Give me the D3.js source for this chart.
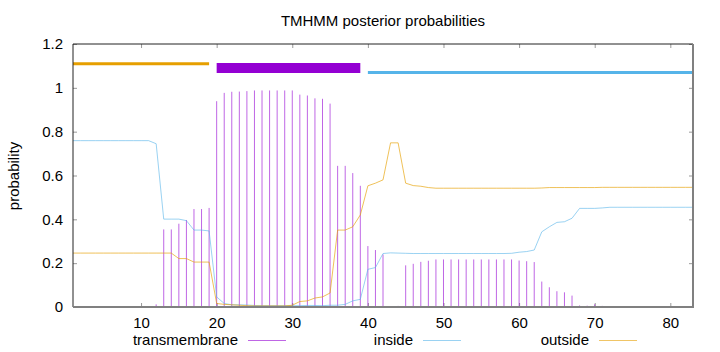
<html>
  <head>
    <script src="https://cdn.jsdelivr.net/npm/d3@7"></script>
    <style>
      body { margin: 0; background: #fff; }
      text { font-family: "Liberation Sans", Arial, sans-serif; fill: #000; }
    </style>
  </head>
  <body>
    <div id="chart"></div>
    <script>
      // residue positions 1..83
      let positions = d3.range(1, 84);

      // transmembrane posterior (impulses)
      let transmembrane = [
        0, 0, 0, 0, 0, 0, 0, 0, 0, 0, 0,
        0.012, 0.354, 0.354, 0.38, 0.397, 0.447, 0.447, 0.452,
        0.939, 0.977, 0.982, 0.983, 0.985, 0.988, 0.988, 0.988, 0.988, 0.988, 0.988,
        0.969, 0.965, 0.952, 0.95, 0.928, 0.644, 0.644, 0.611, 0.553,
        0.278, 0.26, 0.24, 0.003, 0.005, 0.19, 0.197, 0.206, 0.211,
        0.217, 0.217, 0.217, 0.217, 0.217, 0.217, 0.217, 0.217, 0.217, 0.217, 0.217,
        0.212, 0.209, 0.205, 0.116, 0.09, 0.072, 0.067, 0.052,
        0.007, 0.006, 0.012, 0.005,
        0, 0, 0, 0, 0, 0, 0, 0, 0, 0, 0, 0
      ];

      let inside = [
        0.759, 0.759, 0.759, 0.759, 0.759, 0.759, 0.759, 0.759, 0.759, 0.759, 0.759,
        0.745, 0.401, 0.401, 0.401, 0.394, 0.351, 0.351, 0.347,
        0.046, 0.016, 0.01, 0.01, 0.009, 0.007, 0.006, 0.006, 0.006, 0.006, 0.006,
        0.006, 0.007, 0.007, 0.006, 0.008, 0.008, 0.012, 0.028, 0.035,
        0.172, 0.18, 0.244, 0.247, 0.246, 0.245, 0.244, 0.244, 0.244,
        0.244, 0.244, 0.244, 0.244, 0.244, 0.244, 0.244, 0.244, 0.244, 0.244, 0.245,
        0.25, 0.253, 0.26, 0.343, 0.366, 0.386, 0.389, 0.405,
        0.45, 0.45, 0.45, 0.452,
        0.455, 0.455, 0.455, 0.455, 0.455, 0.455, 0.455, 0.455, 0.455, 0.455, 0.455, 0.455
      ];

      let outside = [
        0.246, 0.246, 0.246, 0.246, 0.246, 0.246, 0.246, 0.246, 0.246, 0.246, 0.246,
        0.246, 0.246, 0.246, 0.221, 0.221, 0.205, 0.205, 0.205,
        0.016, 0.012, 0.01, 0.008, 0.006, 0.005, 0.005, 0.005, 0.005, 0.005, 0.008,
        0.025, 0.028, 0.041, 0.046, 0.064, 0.351, 0.351, 0.366, 0.42,
        0.553, 0.565, 0.58, 0.749, 0.749, 0.565, 0.554, 0.551, 0.545,
        0.542, 0.542, 0.542, 0.542, 0.542, 0.542, 0.542, 0.542, 0.542, 0.542, 0.542,
        0.542, 0.542, 0.542, 0.543, 0.545, 0.545, 0.545, 0.545,
        0.545, 0.545, 0.545, 0.546,
        0.546, 0.546, 0.546, 0.546, 0.546, 0.546, 0.546, 0.546, 0.546, 0.546, 0.546, 0.546
      ];

      // predicted topology segments drawn above the plot
      let segments = [
        { label: "outside", start: 1, end: 19, level: 1.11 },
        { label: "TMhelix", start: 20, end: 39, level: 1.09 },
        { label: "inside", start: 40, end: 83, level: 1.07 },
      ];

      let xTicks = [10, 20, 30, 40, 50, 60, 70, 80];
      let yTicks = [0, 0.2, 0.4, 0.6, 0.8, 1, 1.2];
      let yTickLabels = ["0", "0.2", "0.4", "0.6", "0.8", "1", "1.2"];
      let seriesNames = ["transmembrane", "inside", "outside"];

      let colors = { transmembrane: "#9400D3", inside: "#56B4E9", outside: "#E69F00", TMhelix: "#9400D3" };

      let W = 720, H = 352;
      let margin = { top: 44, right: 27, bottom: 45, left: 73 };

      let svg = d3.select("#chart").append("svg")
        .attr("width", W).attr("height", H);

      let x = d3.scaleLinear().domain([1, 83]).range([margin.left, W - margin.right]);
      let y = d3.scaleLinear().domain([0, 1.2]).range([H - margin.bottom, margin.top]);

      // title
      svg.append("text")
        .attr("x", 383).attr("y", 26)
        .attr("text-anchor", "middle")
        .style("font-size", "15px")
        .text("TMHMM posterior probabilities");

      // y label
      svg.append("text")
        .attr("transform", "translate(19,176) rotate(-90)")
        .attr("text-anchor", "middle")
        .style("font-size", "15px")
        .text("probability");

      // axes with inward ticks
      svg.append("g")
        .attr("transform", "translate(0," + y(0) + ")")
        .call(d3.axisBottom(x).tickValues(xTicks).tickSizeInner(-4).tickSizeOuter(0).tickPadding(10));
      svg.append("g")
        .attr("transform", "translate(0," + y(1.2) + ")")
        .call(d3.axisTop(x).tickValues(xTicks).tickFormat("").tickSizeInner(-4).tickSizeOuter(0));
      svg.append("g")
        .attr("transform", "translate(" + x(1) + ",0)")
        .call(d3.axisLeft(y).tickValues(yTicks).tickFormat((d, i) => yTickLabels[i]).tickSizeInner(-4).tickSizeOuter(0).tickPadding(10));
      svg.append("g")
        .attr("transform", "translate(" + x(83) + ",0)")
        .call(d3.axisRight(y).tickValues(yTicks).tickFormat("").tickSizeInner(-4).tickSizeOuter(0));

      svg.selectAll(".domain").remove();
      svg.selectAll(".tick line").attr("stroke", "#999");
      svg.selectAll(".tick text").style("font-size", "15px").attr("fill", "#000");

      // topology segments
      svg.selectAll(".seg")
        .data(segments)
        .enter()
        .append("line")
        .attr("class", "seg")
        .attr("x1", (d) => x(d.start))
        .attr("x2", (d) => x(d.end))
        .attr("y1", (d) => y(d.level))
        .attr("y2", (d) => y(d.level))
        .attr("stroke", (d) => colors[d.label])
        .attr("stroke-width", (d) => (d.label === "TMhelix" ? 10 : 3));

      // impulses
      let rows = positions.map((p, i) => ({ pos: p, tm: transmembrane[i], inn: inside[i], out: outside[i] }));

      svg.append("g")
        .selectAll("line")
        .data(rows.filter((d) => d.tm > 0))
        .enter()
        .append("line")
        .attr("x1", (d) => x(d.pos))
        .attr("x2", (d) => x(d.pos))
        .attr("y1", y(0))
        .attr("y2", (d) => y(d.tm))
        .attr("stroke", colors.transmembrane)
        .attr("stroke-opacity", 0.6)
        .attr("stroke-width", 1);

      let lineInside = d3.line().x((d) => x(d.pos)).y((d) => y(d.inn));
      let lineOutside = d3.line().x((d) => x(d.pos)).y((d) => y(d.out));

      svg.append("path")
        .datum(rows)
        .attr("fill", "none")
        .attr("stroke", colors.inside)
        .attr("stroke-opacity", 0.6)
        .attr("stroke-width", 1)
        .attr("d", lineInside);

      svg.append("path")
        .datum(rows)
        .attr("fill", "none")
        .attr("stroke", colors.outside)
        .attr("stroke-opacity", 0.65)
        .attr("stroke-width", 1)
        .attr("d", lineOutside);

      // border: thin dark top/left, heavier grey bottom/right
      svg.append("line")
        .attr("x1", x(1)).attr("x2", x(83)).attr("y1", y(1.2)).attr("y2", y(1.2))
        .attr("stroke", "#222").attr("stroke-width", 1);
      svg.append("line")
        .attr("x1", x(1)).attr("x2", x(1)).attr("y1", y(1.2)).attr("y2", y(0))
        .attr("stroke", "#222").attr("stroke-width", 1);
      svg.append("line")
        .attr("x1", x(1)).attr("x2", x(83) + 1).attr("y1", y(0)).attr("y2", y(0))
        .attr("stroke", "#808080").attr("stroke-width", 2);
      svg.append("line")
        .attr("x1", x(83)).attr("x2", x(83)).attr("y1", y(1.2)).attr("y2", y(0))
        .attr("stroke", "#808080").attr("stroke-width", 2);

      // legend
      let legendX = [238, 413, 589];
      let legend = svg.append("g");
      seriesNames.forEach(function (name, i) {
        legend.append("text")
          .attr("x", legendX[i]).attr("y", 345)
          .attr("text-anchor", "end")
          .style("font-size", "15px")
          .text(name);
        legend.append("line")
          .attr("x1", legendX[i] + 10).attr("x2", legendX[i] + 48)
          .attr("y1", 340.5).attr("y2", 340.5)
          .attr("stroke", colors[name])
          .attr("stroke-opacity", 0.6)
          .attr("stroke-width", 1);
      });
    </script>
  </body>
</html>
